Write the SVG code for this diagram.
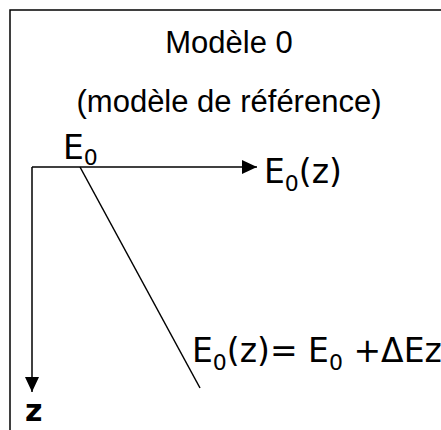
<svg xmlns="http://www.w3.org/2000/svg" width="441" height="430" viewBox="0 0 441 430">
<style>
.t{font-family:"Liberation Sans",Arial,sans-serif;fill:#000}
.m{font-family:"DejaVu Sans",Verdana,sans-serif;fill:#000;font-size:33px}
.s{font-size:22px}
.ln{stroke:#000;stroke-width:1.5;fill:none}
</style>
<defs>
<marker id="ah" markerWidth="15" markerHeight="14" refX="15" refY="7" orient="auto" markerUnits="userSpaceOnUse">
<path d="M0,0 L15,7 L0,14 Z" fill="#000"/>
</marker>
</defs>
<rect x="0" y="0" width="441" height="430" fill="#fff"/>
<g id="frame"><path class="ln" d="M10,430 V10 H441"/></g>
<g id="title"><text class="t" x="229" y="53" font-size="31" text-anchor="middle">Modèle 0</text></g>
<g id="subtitle"><text class="t" x="229" y="112" font-size="31" text-anchor="middle">(modèle de référence)</text></g>
<g id="connectors">
<line class="ln" x1="32" y1="167" x2="257" y2="167" marker-end="url(#ah)"/>
<line class="ln" x1="32" y1="167" x2="32" y2="392" marker-end="url(#ah)"/>
<line class="ln" x1="80" y1="167" x2="200" y2="388"/>
</g>
<g id="e0"><text class="m" x="63" y="159">E<tspan class="s" dy="6">0</tspan></text></g>
<g id="e0z"><text class="m" x="264" y="183">E<tspan class="s" dy="8">0</tspan><tspan dy="-8">(z)</tspan></text></g>
<g id="formula"><text class="m" x="192" y="362">E<tspan class="s" dy="8">0</tspan><tspan dy="-8">(z)= E</tspan><tspan class="s" dy="8">0</tspan><tspan dy="-8"> +ΔEz</tspan></text></g>
<g id="zlabel"><text x="25" y="421" font-size="30" font-weight="bold" font-family="'DejaVu Sans',Verdana,sans-serif">z</text></g>
</svg>
